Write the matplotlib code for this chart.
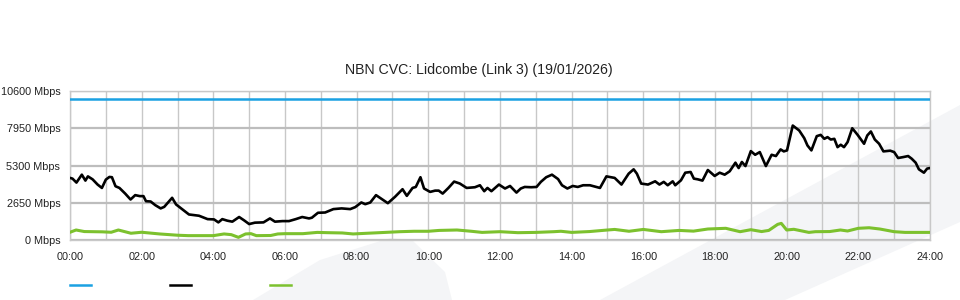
import matplotlib
matplotlib.use("Agg")
import matplotlib.pyplot as plt
from matplotlib.patches import Polygon
from matplotlib.lines import Line2D

plt.rcParams['font.family'] = ['Liberation Sans', 'DejaVu Sans']

title = "NBN CVC: Lidcombe (Link 3) (19/01/2026)"

# capacity (blue)
cap_t = [0, 24]
cap_v = [10000, 10000]

# total traffic (black), hours / Mbps
black_t = [0.00, 0.07, 0.18, 0.33, 0.43, 0.50, 0.63, 0.77, 0.89, 1.00, 1.10, 1.17, 1.27, 1.38,
           1.54, 1.69, 1.82, 1.95, 2.05, 2.12, 2.25, 2.38, 2.53, 2.63, 2.72, 2.85, 2.96, 3.10,
           3.32, 3.60, 3.84, 4.02, 4.14, 4.25, 4.39, 4.53, 4.72, 4.86, 5.00, 5.16, 5.40, 5.58,
           5.72, 5.93, 6.11, 6.30, 6.48, 6.67, 6.75, 6.92, 7.12, 7.35, 7.58, 7.82, 7.96, 8.13,
           8.24, 8.38, 8.54, 8.71, 8.87, 9.07, 9.28, 9.40, 9.56, 9.65, 9.78, 9.88, 10.05, 10.19,
           10.29, 10.40, 10.56, 10.72, 10.88, 11.07, 11.30, 11.44, 11.56, 11.65, 11.76, 11.97,
           12.14, 12.28, 12.46, 12.58, 12.69, 12.87, 13.02, 13.14, 13.29, 13.45, 13.62, 13.73,
           13.88, 14.03, 14.17, 14.32, 14.51, 14.79, 14.97, 15.20, 15.39, 15.59, 15.73, 15.82,
           15.94, 16.13, 16.33, 16.45, 16.57, 16.68, 16.82, 16.89, 17.05, 17.17, 17.32, 17.41,
           17.52, 17.65, 17.80, 17.99, 18.13, 18.27, 18.41, 18.57, 18.66, 18.75, 18.85, 19.00,
           19.12, 19.25, 19.42, 19.58, 19.70, 19.83, 19.92, 20.01, 20.17, 20.35, 20.49, 20.58,
           20.69, 20.84, 20.95, 21.05, 21.14, 21.23, 21.33, 21.42, 21.51, 21.60, 21.70, 21.83,
           21.98, 22.16, 22.25, 22.35, 22.46, 22.58, 22.70, 22.89, 23.00, 23.11, 23.26, 23.39,
           23.49, 23.60, 23.69, 23.83, 23.92, 24.00]
black_v = [4420, 4370, 4090, 4650, 4230, 4530, 4320, 3950, 3710, 4300, 4490, 4470, 3830, 3710,
           3310, 2890, 3200, 3130, 3130, 2770, 2750, 2490, 2260, 2370, 2630, 3010, 2540, 2260,
           1830, 1740, 1500, 1480, 1270, 1500, 1390, 1320, 1650, 1410, 1150, 1250, 1270, 1550,
           1320, 1360, 1360, 1500, 1650, 1550, 1600, 1950, 1970, 2210, 2260, 2210, 2350, 2680,
           2560, 2680, 3200, 2910, 2630, 3080, 3620, 3150, 3710, 3780, 4470, 3670, 3430, 3520,
           3520, 3310, 3710, 4160, 4020, 3710, 3760, 3900, 3480, 3710, 3480, 3950,
           3670, 3850, 3380, 3670, 3780, 3760, 3780, 4140, 4470, 4650, 4340, 3900,
           3670, 3850, 3780, 3900, 3900, 3710, 4530, 4420, 3950, 4720, 5030, 4720,
           4020, 3950, 4180, 3950, 4140, 3900, 4180, 3900, 4250, 4790, 4840, 4370,
           4320, 4230, 4980, 4560, 4790, 4650, 4890, 5500, 5120, 5550, 5260, 6320,
           6060, 6250, 5260, 6060, 5970, 6440, 6300, 6370, 8130, 7780, 7240, 6720,
           6370, 7380, 7470, 7190, 7310, 7140, 7190, 6600, 6770, 6600, 6960, 7940,
           7470, 6840, 7430, 7710, 7140, 6840, 6300, 6350, 6250, 5830, 5900, 5970,
           5780, 5500, 5030, 4790, 5080, 5120]

# green series
green_t = [0, 0.17, 0.4, 0.9, 1.15, 1.35, 1.7, 2.0, 2.5, 3.0, 3.3, 3.7, 4.0, 4.3, 4.5, 4.7, 4.9,
           5.05, 5.2, 5.6, 5.8, 6.0, 6.5, 6.9, 7.2, 7.6, 7.9, 8.3, 8.8, 9.2, 9.6, 10.0, 10.3, 10.8,
           11.2, 11.5, 12.0, 12.5, 13.0, 13.5, 13.7, 14.0, 14.5, 15.0, 15.2, 15.6, 16.0, 16.5,
           17.0, 17.4, 17.8, 18.3, 18.7, 19.0, 19.3, 19.5, 19.75, 19.85, 20.0, 20.2, 20.62, 20.8,
           21.2, 21.5, 21.7, 22.0, 22.3, 22.6, 23.0, 23.3, 24.0]
green_v = [570, 730, 620, 600, 570, 730, 500, 570, 450, 360, 330, 330, 330, 450, 400, 210, 450,
           470, 330, 340, 450, 470, 470, 560, 540, 520, 450, 500, 560, 610, 640, 640, 700, 730,
           640, 560, 610, 540, 560, 610, 640, 560, 620, 730, 770, 640, 770, 610,
           700, 650, 800, 850, 610, 750, 620, 700, 1130, 1200, 730, 780, 560, 610,
           620, 730, 660, 850, 890, 800, 610, 560, 560]

y_ticks = [0, 2650, 5300, 7950, 10600]
x_ticks = list(range(0, 25, 2))
x_labels = ["%02d:00" % h for h in x_ticks]

W, H = 960, 300
fig = plt.figure(figsize=(9.6, 3.0), dpi=100)


def px(x, y):
    return (x / W, 1 - y / H)


# faint watermark shapes behind the chart
wm = '#f4f5f7'
fig.patches.append(Polygon([px(253, 300), px(320, 260), px(390, 238), px(412, 240),
                            px(445, 272), px(452, 300)], closed=True, transform=fig.transFigure,
                           facecolor=wm, edgecolor='none', zorder=-5))
fig.patches.append(Polygon([px(600, 300), px(960, 105), px(960, 222), px(785, 300)],
                           closed=True, transform=fig.transFigure,
                           facecolor=wm, edgecolor='none', zorder=-5))

ax = fig.add_axes([70 / W, 1 - 240.3 / H, 860 / W, 149.6 / H])
ax.set_facecolor('none')
ax.set_zorder(1)

ax.plot(cap_t, cap_v, color='#1ba1e2', lw=1.8, zorder=3)
ax.plot(green_t, green_v, color='#7cc12e', lw=2.2, zorder=3)
ax.plot(black_t, black_v, color='#000000', lw=1.9, zorder=4)

ax.set_xlim(0, 24)
ax.set_ylim(0, 10600)
ax.set_xticks(x_ticks)
ax.set_xticklabels(x_labels)
ax.set_xticks(range(0, 25), minor=True)
ax.set_yticks(y_ticks)
ax.set_yticklabels(["%d Mbps" % v for v in y_ticks])

ax.grid(True, which='both', axis='x', color='#c8c8c8', lw=1.0)
ax.grid(True, axis='y', color='#bdbdbd', lw=1.6)
for s in ax.spines.values():
    s.set_color('#c8c8c8')
    s.set_linewidth(1.0)

ax.tick_params(axis='both', which='both', length=0, labelsize=7.8, colors='#222222')
ax.tick_params(axis='x', pad=8.5)
ax.tick_params(axis='y', pad=7)

fig.text(479 / W, 1 - 70 / H, title, ha='center', va='center', fontsize=10.2, color='#222222')

# legend swatches (no labels)
for x0, c in [(70, '#1ba1e2'), (170, '#000000'), (270, '#7cc12e')]:
    fig.lines.append(Line2D([x0 / W, (x0 + 21) / W], [1 - 285 / H] * 2,
                            transform=fig.transFigure, color=c, lw=1.8))

fig.savefig("out.png", dpi=100)
